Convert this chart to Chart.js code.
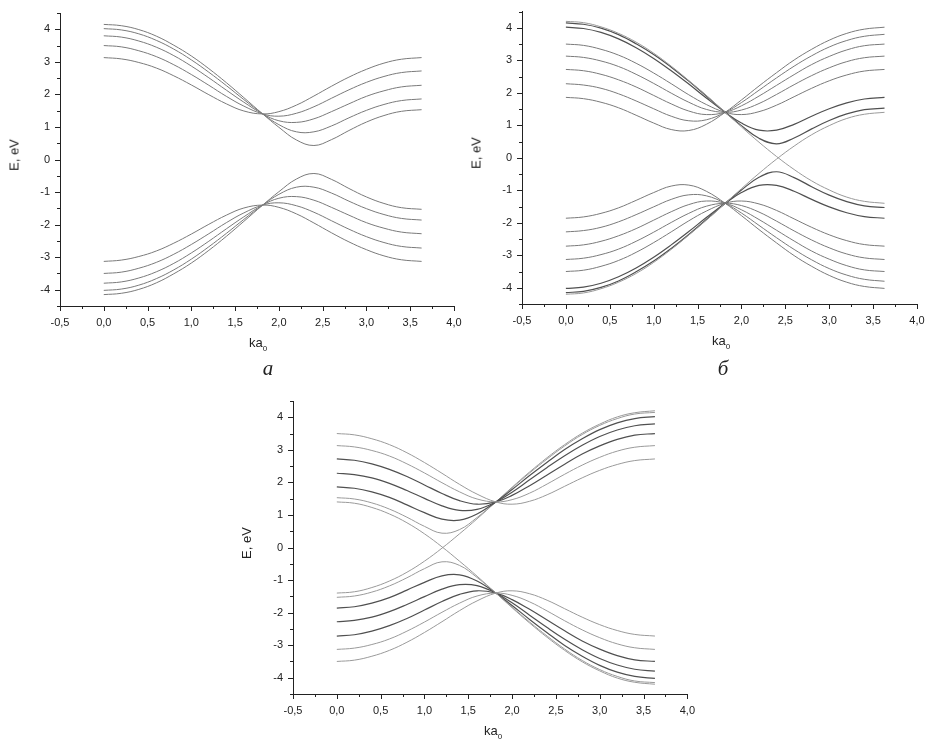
<!DOCTYPE html>
<html>
<head>
<meta charset="utf-8">
<script src="https://cdn.jsdelivr.net/npm/chart.js@4.4.1/dist/chart.umd.min.js"></script>
<style>
  body { margin: 0; background: #fff; width: 930px; height: 750px; position: relative; overflow: hidden; }
  canvas { position: absolute; }
  .lbl { position: absolute; transform: translate(-50%, -50%); font-family: "Liberation Sans", Arial, sans-serif; color: #222; white-space: nowrap; }
  .ytitle { font-size: 13px; transform: translate(-50%, -50%) rotate(-90deg); }
  .xtitle { font-size: 13px; }
  .xtitle sub { font-size: 8px; vertical-align: -4px; }
  .panel { font-family: "Liberation Serif", "Times New Roman", serif; font-style: italic; font-size: 21px; }
</style>
</head>
<body>
<canvas id="chartA" width="470" height="380" style="left:0px;top:0px"></canvas>
<canvas id="chartB" width="470" height="380" style="left:460px;top:0px"></canvas>
<canvas id="chartC" width="470" height="370" style="left:230px;top:380px"></canvas>

<div class="lbl ytitle" style="left:14px;top:155px">E, eV</div>
<div class="lbl xtitle" style="left:258px;top:344px">ka<sub>0</sub></div>
<div class="lbl panel" style="left:268px;top:368px">а</div>

<div class="lbl ytitle" style="left:476px;top:153px">E, eV</div>
<div class="lbl xtitle" style="left:721px;top:342px">ka<sub>0</sub></div>
<div class="lbl panel" style="left:723px;top:368px">б</div>

<div class="lbl ytitle" style="left:246px;top:543px">E, eV</div>
<div class="lbl xtitle" style="left:493px;top:732px">ka<sub>0</sub></div>

<script>
// Wave number samples (ka0)
const kx = [0, 0.2, 0.4, 0.6, 0.8, 1.0, 1.2, 1.4, 1.6, 1.815, 2.0, 2.2, 2.4, 2.6, 2.8, 3.0, 3.2, 3.4, 3.63];

// Upper branches, E (eV)
const eP95 = [4.15, 4.11, 3.99, 3.79, 3.51, 3.18, 2.79, 2.36, 1.90, 1.40, 0.99, 0.60, 0.43, 0.61, 0.89, 1.15, 1.35, 1.48, 1.53];
const eP81 = [4.02, 3.98, 3.86, 3.66, 3.39, 3.06, 2.68, 2.27, 1.84, 1.40, 1.07, 0.85, 0.85, 1.03, 1.28, 1.51, 1.69, 1.81, 1.86];
const eP59 = [3.80, 3.76, 3.64, 3.45, 3.19, 2.87, 2.51, 2.13, 1.76, 1.40, 1.19, 1.14, 1.25, 1.47, 1.71, 1.94, 2.11, 2.23, 2.28];
const eP31 = [3.50, 3.46, 3.34, 3.16, 2.91, 2.61, 2.28, 1.94, 1.64, 1.40, 1.33, 1.42, 1.62, 1.88, 2.14, 2.37, 2.55, 2.67, 2.72];
const eZ0  = [3.13, 3.09, 2.98, 2.81, 2.57, 2.29, 1.99, 1.71, 1.49, 1.40, 1.47, 1.67, 1.95, 2.25, 2.53, 2.77, 2.96, 3.08, 3.13];
const eM31 = [2.72, 2.68, 2.57, 2.40, 2.18, 1.92, 1.66, 1.44, 1.33, 1.40, 1.60, 1.90, 2.23, 2.56, 2.87, 3.12, 3.32, 3.45, 3.50];
const eM59 = [2.28, 2.24, 2.14, 1.97, 1.75, 1.51, 1.28, 1.14, 1.17, 1.40, 1.70, 2.08, 2.46, 2.82, 3.14, 3.41, 3.61, 3.74, 3.80];
const eM81 = [1.86, 1.82, 1.71, 1.54, 1.31, 1.07, 0.87, 0.84, 1.03, 1.40, 1.78, 2.21, 2.62, 3.01, 3.34, 3.62, 3.83, 3.96, 4.02];
const eM95 = [1.53, 1.49, 1.37, 1.18, 0.93, 0.65, 0.44, 0.55, 0.92, 1.40, 1.83, 2.29, 2.72, 3.12, 3.47, 3.75, 3.96, 4.10, 4.15];
// Gapless (linear-crossing) branches
const lineP = [4.20, 4.16, 4.03, 3.83, 3.56, 3.22, 2.82, 2.38, 1.92, 1.40, 0.95, 0.48, 0.04, -0.36, -0.71, -0.99, -1.21, -1.34, -1.40];
const lineM = [1.40, 1.36, 1.23, 1.03, 0.76, 0.42, 0.02, -0.42, -0.88, -1.40, -1.85, -2.32, -2.76, -3.16, -3.51, -3.79, -4.01, -4.14, -4.20];

// Lower branches, E (eV)
const nP95 = [-4.15, -4.11, -3.99, -3.79, -3.51, -3.18, -2.79, -2.36, -1.90, -1.40, -0.99, -0.60, -0.43, -0.61, -0.89, -1.15, -1.35, -1.48, -1.53];
const nP81 = [-4.02, -3.98, -3.86, -3.66, -3.39, -3.06, -2.68, -2.27, -1.84, -1.40, -1.07, -0.85, -0.85, -1.03, -1.28, -1.51, -1.69, -1.81, -1.86];
const nP59 = [-3.80, -3.76, -3.64, -3.45, -3.19, -2.87, -2.51, -2.13, -1.76, -1.40, -1.19, -1.14, -1.25, -1.47, -1.71, -1.94, -2.11, -2.23, -2.28];
const nP31 = [-3.50, -3.46, -3.34, -3.16, -2.91, -2.61, -2.28, -1.94, -1.64, -1.40, -1.33, -1.42, -1.62, -1.88, -2.14, -2.37, -2.55, -2.67, -2.72];
const nZ0  = [-3.13, -3.09, -2.98, -2.81, -2.57, -2.29, -1.99, -1.71, -1.49, -1.40, -1.47, -1.67, -1.95, -2.25, -2.53, -2.77, -2.96, -3.08, -3.13];
const nM31 = [-2.72, -2.68, -2.57, -2.40, -2.18, -1.92, -1.66, -1.44, -1.33, -1.40, -1.60, -1.90, -2.23, -2.56, -2.87, -3.12, -3.32, -3.45, -3.50];
const nM59 = [-2.28, -2.24, -2.14, -1.97, -1.75, -1.51, -1.28, -1.14, -1.17, -1.40, -1.70, -2.08, -2.46, -2.82, -3.14, -3.41, -3.61, -3.74, -3.80];
const nM81 = [-1.86, -1.82, -1.71, -1.54, -1.31, -1.07, -0.87, -0.84, -1.03, -1.40, -1.78, -2.21, -2.62, -3.01, -3.34, -3.62, -3.83, -3.96, -4.02];
const nM95 = [-1.53, -1.49, -1.37, -1.18, -0.93, -0.65, -0.44, -0.55, -0.92, -1.40, -1.83, -2.29, -2.72, -3.12, -3.47, -3.75, -3.96, -4.10, -4.15];
const nLineP = [-4.20, -4.16, -4.03, -3.83, -3.56, -3.22, -2.82, -2.38, -1.92, -1.40, -0.95, -0.48, -0.04, 0.36, 0.71, 0.99, 1.21, 1.34, 1.40];
const nLineM = [-1.40, -1.36, -1.23, -1.03, -0.76, -0.42, -0.02, 0.42, 0.88, 1.40, 1.85, 2.32, 2.76, 3.16, 3.51, 3.79, 4.01, 4.14, 4.20];

const axisColor = '#222';
const fontFamily = '"Liberation Sans", Arial, sans-serif';
const mid = '#7a7a7a';
const light = '#9a9a9a';
const dark = '#505050';

// Short/long tick marks on the outside of both axes
const tickMarks = {
    id: 'tickMarks',
    afterDraw(chart) {
        const ctx = chart.ctx;
        const xs = chart.scales.x;
        const ys = chart.scales.y;
        ctx.save();
        ctx.strokeStyle = axisColor;
        ctx.lineWidth = 1;
        ctx.beginPath();
        xs.ticks.forEach(t => {
            const major = Math.abs(t.value * 2 - Math.round(t.value * 2)) < 1e-6;
            const px = Math.round(xs.getPixelForValue(t.value)) + 0.5;
            ctx.moveTo(px, xs.top);
            ctx.lineTo(px, xs.top + (major ? 5 : 3));
        });
        ys.ticks.forEach(t => {
            const major = Math.abs(t.value - Math.round(t.value)) < 1e-6;
            const py = Math.round(ys.getPixelForValue(t.value)) + 0.5;
            ctx.moveTo(ys.right, py);
            ctx.lineTo(ys.right - (major ? 5 : 3), py);
        });
        ctx.stroke();
        ctx.restore();
    }
};

function series(vals, color, width) {
    return {
        data: kx.map((x, i) => ({ x: x, y: vals[i] })),
        borderColor: color,
        borderWidth: width || 1,
        pointRadius: 0,
        fill: false,
        tension: 0.4
    };
}

function makeChart(canvasId, datasets, pad, yWidth, xHeight) {
    const ctx = document.getElementById(canvasId).getContext('2d');
    return new Chart(ctx, {
        type: 'line',
        data: { datasets: datasets },
        options: {
            responsive: false,
            animation: false,
            layout: { padding: pad },
            plugins: { legend: { display: false }, tooltip: { enabled: false } },
            scales: {
                x: {
                    type: 'linear',
                    min: -0.5,
                    max: 4.0,
                    border: { display: true, color: axisColor, width: 1 },
                    grid: { display: true, drawOnChartArea: false, drawTicks: true, tickLength: 5, tickColor: 'rgba(0,0,0,0)' },
                    ticks: {
                        stepSize: 0.25,
                        autoSkip: false,
                        maxRotation: 0,
                        padding: 5,
                        color: axisColor,
                        font: { family: fontFamily, size: 11 },
                        callback: v => Math.abs(v * 2 - Math.round(v * 2)) < 1e-6 ? v.toFixed(1).replace('.', ',') : ''
                    },
                    afterFit: s => { s.height = xHeight; }
                },
                y: {
                    type: 'linear',
                    min: -4.5,
                    max: 4.5,
                    border: { display: true, color: axisColor, width: 1 },
                    grid: { display: true, drawOnChartArea: false, drawTicks: true, tickLength: 5, tickColor: 'rgba(0,0,0,0)' },
                    ticks: {
                        stepSize: 0.5,
                        autoSkip: false,
                        padding: 5,
                        color: axisColor,
                        font: { family: fontFamily, size: 11 },
                        callback: v => Math.abs(v - Math.round(v)) < 1e-6 ? String(Math.round(v)) : ''
                    },
                    afterFit: s => { s.width = yWidth; }
                }
            }
        },
        plugins: [tickMarks]
    });
}

// Panel а
makeChart('chartA', [
    series(eP95, mid), series(eP81, mid), series(eP59, mid), series(eP31, mid), series(eZ0, mid),
    series(nP95, mid), series(nP81, mid), series(nP59, mid), series(nP31, mid), series(nZ0, mid)
], { left: 0, right: 16, top: 13, bottom: 0 }, 60, 74);

// Panel б
makeChart('chartB', [
    series(lineP, light), series(eP95, dark, 1.2), series(eP81, dark, 1.2), series(eP31, mid),
    series(eZ0, mid), series(eM31, mid), series(eM59, mid), series(eM81, mid),
    series(nLineP, light), series(nP95, dark, 1.2), series(nP81, dark, 1.2), series(nP31, mid),
    series(nZ0, mid), series(nM31, mid), series(nM59, mid), series(nM81, mid)
], { left: 0, right: 13, top: 10, bottom: 0 }, 62, 76);

// Panel в
makeChart('chartC', [
    series(eP31, light), series(eZ0, light), series(eM31, dark, 1.2), series(eM59, dark, 1.2),
    series(eM81, dark, 1.2), series(eM95, light), series(lineM, light),
    series(nP31, light), series(nZ0, light), series(nM31, dark, 1.2), series(nM59, dark, 1.2),
    series(nM81, dark, 1.2), series(nM95, light), series(nLineM, light)
], { left: 0, right: 12, top: 21, bottom: 0 }, 63, 56);
</script>
</body>
</html>
